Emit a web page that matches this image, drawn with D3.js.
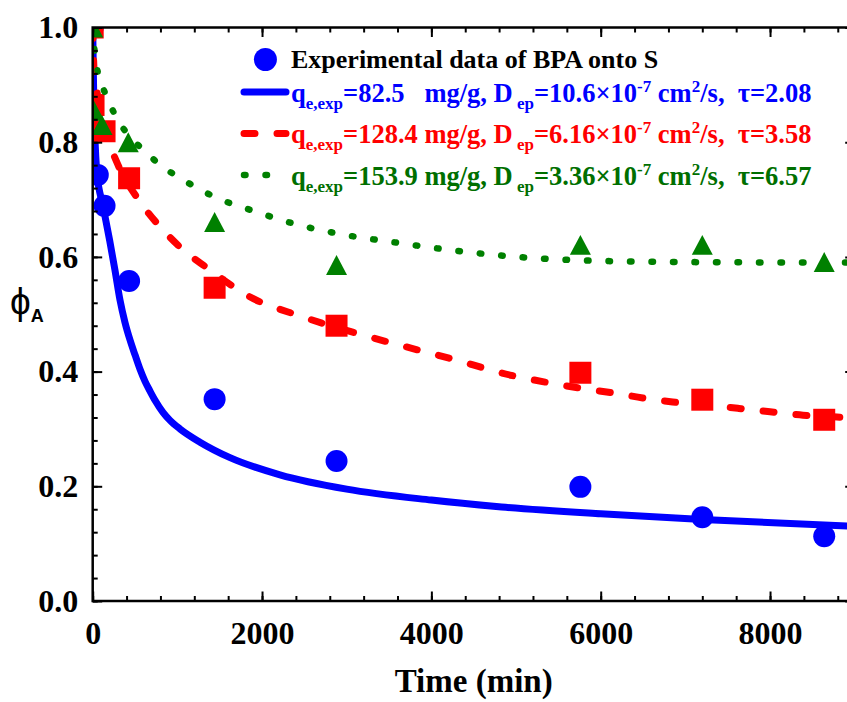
<!DOCTYPE html>
<html>
<head>
<meta charset="utf-8">
<script src="https://cdn.jsdelivr.net/npm/d3@7"></script>
<style>
    body { margin: 0; background: #fff; }
    svg { display: block; }
    text { font-family: 'Liberation Serif', 'Times New Roman', serif; font-weight: bold; }
</style>
</head>
<body>
<svg id="chart" width="847" height="702"></svg>
<script>
// experimental points (time in min, phi_A)
const expTimeBlue = [ 0, 60, 140, 430, 1440, 2880, 5760, 7200, 8640 ];
const expPhiBlue  = [ 1.0, 0.743, 0.689, 0.558, 0.352, 0.244, 0.199, 0.146, 0.113 ];
const expTimeRed  = [ 0, 10, 140, 430, 1440, 2880, 5760, 7200, 8640 ];
const expPhiRed   = [ 1.0, 0.865, 0.819, 0.737, 0.546, 0.480, 0.398, 0.351, 0.316 ];
const expTimeGreen = [ 0, 15, 110, 420, 1440, 2880, 5760, 7200, 8640 ];
const expPhiGreen  = [ 1.0, 0.855, 0.830, 0.800, 0.661, 0.586, 0.621, 0.621, 0.591 ];

// model curves
const fitTimeBlue = [ 0, 10, 25, 50, 120, 200, 263, 322, 381, 441, 500, 559, 618, 677, 736, 830, 913, 1031, 1267, 1622, 2212, 3000, 4000, 4830, 6000, 7200, 9000 ];
const fitPhiBlue  = [ 1.0, 0.90, 0.815, 0.746, 0.690, 0.629, 0.577, 0.525, 0.486, 0.455, 0.429, 0.404, 0.383, 0.366, 0.350, 0.329, 0.315, 0.300, 0.277, 0.250, 0.220, 0.195, 0.176, 0.164, 0.152, 0.142, 0.130 ];
const fitTimeRed  = [ 0, 15, 60, 150, 300, 560, 830, 1070, 1350, 1860, 2450, 3040, 3630, 4220, 4960, 5370, 5760, 6140, 6500, 6850, 7250, 7620, 8000, 8390, 8790, 9000 ];
const fitPhiRed   = [ 1.0, 0.93, 0.88, 0.82, 0.760, 0.696, 0.647, 0.612, 0.581, 0.530, 0.497, 0.470, 0.446, 0.423, 0.393, 0.381, 0.371, 0.363, 0.354, 0.347, 0.342, 0.336, 0.330, 0.324, 0.321, 0.318 ];
const fitTimeGreen = [ 0, 20, 60, 145, 263, 440, 630, 795, 995, 1175, 1350, 1563, 1800, 2450, 2880, 3630, 4220, 5010, 5760, 7000, 9000 ];
const fitPhiGreen  = [ 1.0, 0.962, 0.922, 0.886, 0.848, 0.809, 0.783, 0.760, 0.741, 0.725, 0.711, 0.697, 0.685, 0.655, 0.641, 0.624, 0.612, 0.600, 0.594, 0.591, 0.590 ];

const xTicks = [ 0, 2000, 4000, 6000, 8000 ];
const yTicks = [ 0.0, 0.2, 0.4, 0.6, 0.8, 1.0 ];

const legendRows = [
    [ [ 'q' ], [ 'e,exp', 'sub' ], [ '=82.5   mg/g, D' ], [ ' ep', 'sub' ], [ '=10.6×10' ], [ '-7', 'sup' ], [ ' cm' ], [ '2', 'sup' ], [ '/s,  τ=2.08' ] ],
    [ [ 'q' ], [ 'e,exp', 'sub' ], [ '=128.4 mg/g, D' ], [ ' ep', 'sub' ], [ '=6.16×10' ], [ '-7', 'sup' ], [ ' cm' ], [ '2', 'sup' ], [ '/s,  τ=3.58' ] ],
    [ [ 'q' ], [ 'e,exp', 'sub' ], [ '=153.9 mg/g, D' ], [ ' ep', 'sub' ], [ '=3.36×10' ], [ '-7', 'sup' ], [ ' cm' ], [ '2', 'sup' ], [ '/s,  τ=6.57' ] ]
];

const blue = '#0000ff', red = '#ff0000', green = '#008000';

const svg = d3.select( '#chart' );
const pLeft = 92.7, pRight = 854.7, pTop = 27.5, pBottom = 601;

const x = d3.scaleLinear().domain( [ 0, 9000 ] ).range( [ pLeft, pRight ] );
const y = d3.scaleLinear().domain( [ 0, 1 ] ).range( [ pBottom, pTop ] );

svg.append( 'clipPath' ).attr( 'id', 'clip' )
    .append( 'rect' )
    .attr( 'x', pLeft ).attr( 'y', pTop )
    .attr( 'width', pRight - pLeft ).attr( 'height', pBottom - pTop );

const plot = svg.append( 'g' ).attr( 'clip-path', 'url(#clip)' );

const line = d3.line()
    .curve( d3.curveMonotoneX )
    .x( d => x( d[ 0 ] ) )
    .y( d => y( d[ 1 ] ) );

const zip = ( a, b ) => a.map( ( v, i ) => [ v, b[ i ] ] );

// triangle with its bounding box centred on the point
const triangle = {
    draw( ctx, size ) {
        const w = Math.sqrt( size ), h = w * 0.95;
        ctx.moveTo( 0, -h / 2 );
        ctx.lineTo( w / 2, h / 2 );
        ctx.lineTo( -w / 2, h / 2 );
        ctx.closePath();
    }
};

const series = [
    { color: blue, ft: fitTimeBlue, fp: fitPhiBlue, et: expTimeBlue, ep: expPhiBlue, sym: d3.symbolCircle, size: Math.PI * 11 * 11, dash: null, w: 7 },
    { color: red, ft: fitTimeRed, fp: fitPhiRed, et: expTimeRed, ep: expPhiRed, sym: d3.symbolSquare, size: 22 * 22, dash: '11 22', w: 7 },
    { color: green, ft: fitTimeGreen, fp: fitPhiGreen, et: expTimeGreen, ep: expPhiGreen, sym: triangle, size: 21 * 21, dash: '1.5 20', w: 6.5 }
];

series.forEach( s => {
    plot.append( 'path' )
        .datum( zip( s.ft, s.fp ) )
        .attr( 'd', line )
        .attr( 'fill', 'none' )
        .attr( 'stroke', s.color )
        .attr( 'stroke-width', s.w )
        .attr( 'stroke-linecap', 'round' )
        .attr( 'stroke-linejoin', 'round' )
        .attr( 'stroke-dasharray', s.dash );

    plot.selectAll( null )
        .data( zip( s.et, s.ep ) )
        .enter().append( 'path' )
        .attr( 'transform', d => 'translate(' + x( d[ 0 ] ) + ',' + y( d[ 1 ] ) + ')' )
        .attr( 'd', d3.symbol().type( s.sym ).size( s.size ) )
        .attr( 'fill', s.color );
} );

// axes: major + minor ticks, all pointing inward, on all four sides
const drawAxis = ( axisFn, pos, values, len, labels ) => {
    const horiz = axisFn == d3.axisBottom || axisFn == d3.axisTop;
    const ax = axisFn( horiz ? x : y )
        .tickValues( values )
        .tickSizeInner( -len )
        .tickSizeOuter( 0 )
        .tickFormat( labels ? ( horiz ? d3.format( 'd' ) : d3.format( '.1f' ) ) : '' );
    if( labels ) ax.tickPadding( horiz ? 20 : 14.5 );
    const g = svg.append( 'g' ).attr( 'transform', pos ).call( ax );
    g.select( '.domain' ).remove();
    g.selectAll( 'line' ).attr( 'stroke', '#000' ).attr( 'stroke-width', 2 );
    g.selectAll( 'text' ).attr( 'font-size', 32 ).attr( 'fill', '#000' )
        .style( 'font-family', "'Liberation Serif', serif" ).style( 'font-weight', 'bold' );
    return g;
};

const xMinor = d3.range( 0, 9001, 400 );
const yMinor = d3.range( 0, 1.0001, 0.04 );

drawAxis( d3.axisBottom, 'translate(0,' + pBottom + ')', xMinor, 5, false );
drawAxis( d3.axisBottom, 'translate(0,' + pBottom + ')', xTicks, 9.5, true );
drawAxis( d3.axisTop, 'translate(0,' + pTop + ')', xMinor, 5, false );
drawAxis( d3.axisTop, 'translate(0,' + pTop + ')', xTicks, 9.5, false );
drawAxis( d3.axisLeft, 'translate(' + pLeft + ',0)', yMinor, 5, false );
drawAxis( d3.axisLeft, 'translate(' + pLeft + ',0)', yTicks, 9.5, true );
drawAxis( d3.axisRight, 'translate(' + pRight + ',0)', yMinor, 5, false );
drawAxis( d3.axisRight, 'translate(' + pRight + ',0)', yTicks, 9.5, false );

svg.append( 'rect' )
    .attr( 'x', pLeft ).attr( 'y', pTop )
    .attr( 'width', pRight - pLeft ).attr( 'height', pBottom - pTop )
    .attr( 'fill', 'none' ).attr( 'stroke', '#000' ).attr( 'stroke-width', 2.5 );

// axis titles
svg.append( 'text' )
    .attr( 'x', ( pLeft + pRight ) / 2 ).attr( 'y', 692 )
    .attr( 'text-anchor', 'middle' ).attr( 'font-size', 33 )
    .text( 'Time (min)' );

const yt = svg.append( 'text' ).attr( 'x', 10 ).attr( 'y', 314 )
    .style( 'font-family', "'Liberation Sans', Arial, sans-serif" );
yt.append( 'tspan' ).attr( 'font-size', 37 ).style( 'font-weight', 'normal' ).text( 'ϕ' );
yt.append( 'tspan' ).attr( 'font-size', 18 ).attr( 'dy', 8 ).text( 'A' );

// legend
const lg = svg.append( 'g' );
lg.append( 'circle' ).attr( 'cx', 265.4 ).attr( 'cy', 59.5 ).attr( 'r', 11.5 ).attr( 'fill', blue );
lg.append( 'text' ).attr( 'x', 291 ).attr( 'y', 68 ).attr( 'font-size', 26 ).attr( 'fill', '#000' )
    .text( 'Experimental data of BPA onto S' );

const rowY = [ 101.5, 143, 184.5 ];
const rowColor = [ blue, red, '#006f00' ];

series.forEach( ( s, i ) => {
    let ly = rowY[ i ] - 9.5;
    lg.append( 'line' )
        .attr( 'x1', 244 ).attr( 'x2', 286 )
        .attr( 'y1', ly ).attr( 'y2', ly )
        .attr( 'stroke', s.color )
        .attr( 'stroke-width', s.w )
        .attr( 'stroke-linecap', 'round' )
        .attr( 'stroke-dasharray', s.dash );

    let t = lg.append( 'text' )
        .attr( 'x', 291 ).attr( 'y', rowY[ i ] )
        .attr( 'font-size', 26.5 ).attr( 'fill', rowColor[ i ] )
        .style( 'white-space', 'pre' );
    let shift = 0;
    legendRows[ i ].forEach( p => {
        let target = p[ 1 ] == 'sub' ? 7 : p[ 1 ] == 'sup' ? -10 : 0;
        t.append( 'tspan' )
            .attr( 'dy', target - shift )
            .attr( 'font-size', p[ 1 ] ? 17 : 26.5 )
            .text( p[ 0 ] );
        shift = target;
    } );
} );
</script>
</body>
</html>
